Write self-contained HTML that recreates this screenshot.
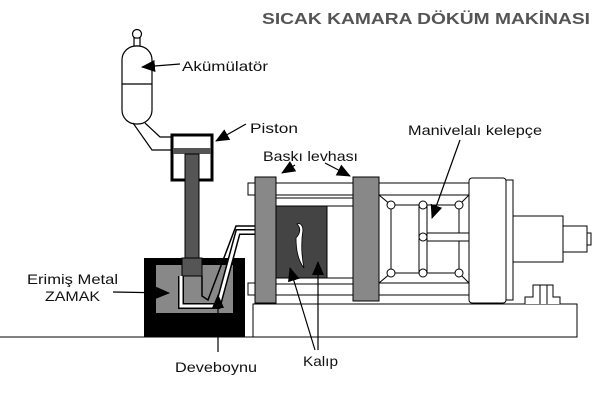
<!DOCTYPE html>
<html><head><meta charset="utf-8"><style>
html,body{margin:0;padding:0;background:#fff;width:600px;height:400px;overflow:hidden}
svg{display:block}
text{font-family:"Liberation Sans",sans-serif;fill:#111}
</style></head><body>
<svg width="600" height="400" viewBox="0 0 600 400" xmlns="http://www.w3.org/2000/svg">
<defs><marker id="ab" markerWidth="14" markerHeight="12" refX="13" refY="6" orient="auto" markerUnits="userSpaceOnUse"><path d="M0,0 L14,6 L0,12 z" fill="#000"/></marker></defs>
<text x="262" y="24" font-size="16" font-weight="bold" style="fill:#555" textLength="328" lengthAdjust="spacingAndGlyphs">SICAK KAMARA DÖKÜM MAKİNASI</text>

<g fill="none" stroke="#000" stroke-width="1.2">
<circle cx="137" cy="34" r="4.5" fill="#fff"/>
<rect x="134" y="38" width="6" height="8" fill="#fff"/>
<rect x="122" y="46" width="30" height="78" rx="14" fill="#fff"/>
<line x1="122" y1="84" x2="152" y2="84"/>
<polyline points="133,123 152,150 172,150"/>
<polyline points="145,123 160,137 172,137"/>
</g>
<line x1="180" y1="64" x2="142" y2="67" stroke="#000" stroke-width="1.2" marker-end="url(#ab)"/>
<text x="182" y="71" font-size="14" textLength="86" lengthAdjust="spacingAndGlyphs">Akümülatör</text>

<rect x="172" y="135" width="40" height="45" fill="#fff" stroke="#000" stroke-width="3"/>
<rect x="173" y="148" width="38" height="6" fill="#555"/>
<rect x="185" y="154" width="14" height="106" fill="#555" stroke="#000" stroke-width="1"/>
<line x1="246" y1="124" x2="216" y2="141" stroke="#000" stroke-width="1.2" marker-end="url(#ab)"/>
<text x="250" y="133" font-size="14" textLength="48" lengthAdjust="spacingAndGlyphs">Piston</text>

<rect x="144" y="258" width="101" height="79" fill="#000"/>
<rect x="156" y="265" width="77" height="48" fill="#888"/>
<rect x="182" y="258" width="20" height="18" fill="#555" stroke="#000"/>
<polyline points="181,276 181,306 218,306 238,232 272,232" fill="none" stroke="#000" stroke-width="6"/>
<polyline points="181,276 181,306 218,306 238,232 272,232" fill="none" stroke="#fff" stroke-width="3"/>
<polyline points="202,276 202,296 208,300 236,226 272,226" fill="none" stroke="#000" stroke-width="1.5"/>
<line x1="0" y1="337" x2="254" y2="337" stroke="#000" stroke-width="1"/>
<line x1="113" y1="292" x2="169" y2="293" stroke="#000" stroke-width="1.2" marker-end="url(#ab)"/>
<line x1="218" y1="352" x2="218" y2="295" stroke="#000" stroke-width="1.2" marker-end="url(#ab)"/>
<text x="27" y="284" font-size="14" textLength="91" lengthAdjust="spacingAndGlyphs">Erimiş Metal</text>
<text x="45" y="301" font-size="14" textLength="55" lengthAdjust="spacingAndGlyphs">ZAMAK</text>
<text x="175" y="372" font-size="14" textLength="82" lengthAdjust="spacingAndGlyphs">Deveboynu</text>

<g stroke="#000" stroke-width="1" fill="#fff">
<rect x="253" y="304" width="324" height="33"/>
<rect x="248" y="183" width="222" height="12"/>
<rect x="248" y="283" width="222" height="12"/>
<rect x="276" y="198" width="78" height="8"/>
<rect x="276" y="278" width="78" height="6"/>
<rect x="255" y="177" width="21" height="126" fill="#888"/>
<rect x="276" y="206" width="51" height="72" fill="#444"/>
<rect x="353" y="177" width="26" height="124" fill="#888"/>
<path d="M379,195 L391,205 L459,205 L469,195 M379,283 L391,273 L459,273 L469,283" fill="none"/>
<line x1="391" y1="205" x2="391" y2="273"/>
<line x1="459" y1="205" x2="459" y2="273"/>
<rect x="419" y="205" width="8" height="68"/>
<rect x="427" y="233" width="42" height="8"/>
<circle cx="391" cy="205" r="4"/><circle cx="459" cy="205" r="4"/><circle cx="423" cy="205" r="4"/>
<circle cx="391" cy="273" r="4"/><circle cx="459" cy="273" r="4"/><circle cx="423" cy="273" r="4"/><circle cx="423" cy="237" r="4"/>
<rect x="469" y="178" width="37" height="125" rx="3"/>
<rect x="506" y="180" width="7" height="120"/>
<rect x="513" y="216" width="50" height="46"/>
<rect x="563" y="226" width="24" height="26"/>
<rect x="587" y="233" width="4" height="12"/>
<path d="M525,304 L525,297 L533,297 L533,285 L553,285 L553,297 L560,297 L560,304"/>
<line x1="540" y1="285" x2="540" y2="304"/><line x1="547" y1="285" x2="547" y2="304"/>
</g>
<path d="M296,238 Q303,230 297,224 Q302,222 303,230 Q300,248 304,268 Q296,258 296,238 Z" fill="#fff" stroke="#000" stroke-width="0.8"/>
<line x1="315" y1="350" x2="290" y2="268" stroke="#000" stroke-width="1.2" marker-end="url(#ab)"/>
<line x1="318" y1="350" x2="318" y2="262" stroke="#000" stroke-width="1.2" marker-end="url(#ab)"/>
<text x="303" y="366" font-size="14" textLength="35" lengthAdjust="spacingAndGlyphs">Kalıp</text>
<line x1="295" y1="165" x2="282" y2="173" stroke="#000" stroke-width="1.2" marker-end="url(#ab)"/>
<line x1="325" y1="163" x2="350" y2="176" stroke="#000" stroke-width="1.2" marker-end="url(#ab)"/>
<text x="263" y="161" font-size="14" textLength="95" lengthAdjust="spacingAndGlyphs">Baskı levhası</text>
<line x1="460" y1="140" x2="432" y2="218" stroke="#000" stroke-width="1.2" marker-end="url(#ab)"/>
<text x="408" y="135" font-size="14" textLength="134" lengthAdjust="spacingAndGlyphs">Manivelalı kelepçe</text>
</svg>
</body></html>
